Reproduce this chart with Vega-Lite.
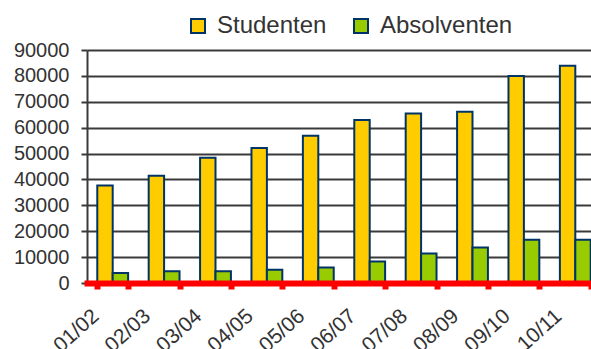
{
  "$schema": "https://vega.github.io/schema/vega-lite/v6.json",
  "width": 514,
  "height": 233,
  "autosize": "none",
  "padding": {"left": 87, "top": 50, "right": 0, "bottom": 66},
  "background": "white",
  "config": {"font": "Liberation Sans", "view": {"stroke": null}},
  "data": {
    "values": [
      {"year": "01/02", "series": "Studenten", "value": 37700},
      {"year": "01/02", "series": "Absolventen", "value": 3900},
      {"year": "02/03", "series": "Studenten", "value": 41400},
      {"year": "02/03", "series": "Absolventen", "value": 4500},
      {"year": "03/04", "series": "Studenten", "value": 48400},
      {"year": "03/04", "series": "Absolventen", "value": 4500},
      {"year": "04/05", "series": "Studenten", "value": 52100},
      {"year": "04/05", "series": "Absolventen", "value": 5100},
      {"year": "05/06", "series": "Studenten", "value": 56900},
      {"year": "05/06", "series": "Absolventen", "value": 6000},
      {"year": "06/07", "series": "Studenten", "value": 63000},
      {"year": "06/07", "series": "Absolventen", "value": 8300},
      {"year": "07/08", "series": "Studenten", "value": 65500},
      {"year": "07/08", "series": "Absolventen", "value": 11400},
      {"year": "08/09", "series": "Studenten", "value": 66100},
      {"year": "08/09", "series": "Absolventen", "value": 13700},
      {"year": "09/10", "series": "Studenten", "value": 80000},
      {"year": "09/10", "series": "Absolventen", "value": 16700},
      {"year": "10/11", "series": "Studenten", "value": 83900},
      {"year": "10/11", "series": "Absolventen", "value": 16700}
    ]
  },
  "mark": {"type": "bar", "stroke": "#003366", "strokeWidth": 2},
  "encoding": {
    "x": {
      "field": "year",
      "type": "nominal",
      "sort": null,
      "scale": {"paddingInner": 0.4, "paddingOuter": 0.2},
      "axis": {
        "title": null,
        "labelAngle": -42,
        "labelAlign": "right",
        "labelBaseline": "middle",
        "labelFontSize": 21,
        "labelColor": "#333333",
        "labelPadding": 24,
        "labelOffset": -17,
        "domainColor": "#ff0000",
        "domainWidth": 6,
        "domainCap": "square",
        "tickColor": "#ff0000",
        "tickWidth": 6,
        "tickSize": 6,
        "tickBand": "extent",
        "grid": false,
        "zindex": 1
      }
    },
    "xOffset": {
      "field": "series",
      "type": "nominal",
      "sort": ["Studenten", "Absolventen"],
      "scale": {"paddingInner": 0, "paddingOuter": 0}
    },
    "y": {
      "field": "value",
      "type": "quantitative",
      "scale": {"domain": [0, 90000], "nice": false},
      "axis": {
        "title": null,
        "values": [0, 10000, 20000, 30000, 40000, 50000, 60000, 70000, 80000, 90000],
        "format": "d",
        "labelFontSize": 20,
        "labelColor": "#333333",
        "labelPadding": 12,
        "gridColor": "#3a3a3a",
        "gridWidth": 2,
        "gridOpacity": 1,
        "domainColor": "#3a3a3a",
        "domainWidth": 2,
        "tickColor": "#3a3a3a",
        "tickWidth": 2,
        "tickSize": 6
      }
    },
    "color": {
      "field": "series",
      "type": "nominal",
      "scale": {"domain": ["Studenten", "Absolventen"], "range": ["#FFCC00", "#99CC00"]},
      "legend": {
        "title": null,
        "orient": "none",
        "direction": "horizontal",
        "legendX": 99,
        "legendY": -36,
        "symbolType": "square",
        "symbolSize": 196,
        "symbolStrokeColor": "#003366",
        "symbolStrokeWidth": 2,
        "symbolOpacity": 1,
        "labelFontSize": 24,
        "labelColor": "#333333",
        "labelOffset": 7,
        "columnPadding": 22
      }
    }
  }
}
